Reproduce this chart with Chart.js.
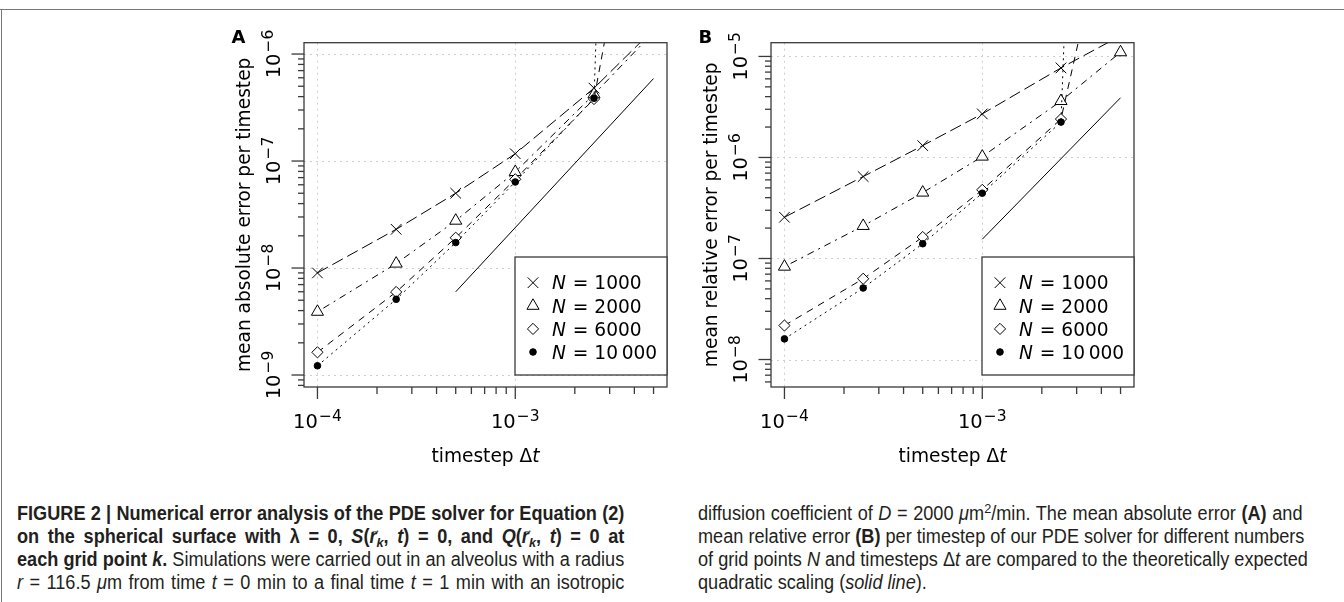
<!DOCTYPE html>
<html>
<head>
<meta charset="utf-8">
<script src="https://cdn.jsdelivr.net/npm/chart.js@4.4.1/dist/chart.umd.min.js"></script>
<style>
  body { margin: 0; background: #fff; width: 1344px; height: 602px; overflow: hidden; position: relative; }
  .frame-top { position: absolute; left: 0; top: 9px; width: 1344px; border-top: 1.5px solid #777; }
  .frame-left { position: absolute; left: 1px; top: 9px; height: 593px; border-left: 1.5px solid #777; }
  canvas { position: absolute; top: 0; }
  .cap { position: absolute; font-family: 'Liberation Sans Narrow', 'Liberation Sans', Arial, sans-serif;
         font-size: 19.5px; line-height: 23px; color: #231f20; white-space: nowrap;
         transform: scaleX(0.93); transform-origin: 0 0; }
  .cap div { text-align: justify; text-align-last: justify; }
  .cap div.last { text-align-last: left; }
  .vec { position: relative; }
  .vec .arr { position: absolute; left: 1px; top: -1px; font-size: 11px; line-height: 11px; font-style: normal; font-weight: normal; }
  sub { font-size: 70%; line-height: 0; vertical-align: -0.3em; }
  sup { font-size: 70%; line-height: 0; }
</style>
</head>
<body>
<div class="frame-top"></div>
<div class="frame-left"></div>
<canvas id="chartA" width="480" height="480" style="left:200px"></canvas>
<canvas id="chartB" width="480" height="480" style="left:667px"></canvas>

<div class="cap" style="left:17px; top:502px; width:653px">
  <div><b>FIGURE 2 | Numerical error analysis of the PDE solver for Equation (2)</b></div>
  <div><b>on the spherical surface with λ = 0, <i>S</i>(<i class="vec"><span class="arr">→</span>r</i><sub><i>k</i></sub>, <i>t</i>) = 0, and <i>Q</i>(<i class="vec"><span class="arr">→</span>r</i><sub><i>k</i></sub>, <i>t</i>) = 0 at</b></div>
  <div><b>each grid point <i>k</i>.</b> Simulations were carried out in an alveolus with a radius</div>
  <div><i>r</i> = 116.5 <i>μ</i>m from time <i>t</i> = 0 min to a final time <i>t</i> = 1 min with an isotropic</div>
</div>
<div class="cap" style="left:698px; top:502px; width:650px">
  <div>diffusion coefficient of <i>D</i> = 2000 <i>μ</i>m<sup>2</sup>/min. The mean absolute error <b>(A)</b> and</div>
  <div>mean relative error <b>(B)</b> per timestep of our PDE solver for different numbers</div>
  <div>of grid points <i>N</i> and timesteps Δ<i>t</i> are compared to the theoretically expected</div>
  <div class="last">quadratic scaling (<i>solid line</i>).</div>
</div>

<script>
// timesteps (x) shared by both panels
const timesteps = [1e-4, 2.5e-4, 5e-4, 1e-3, 2.5e-3, 5e-3];
const gridPoints = ['1000', '2000', '6000', '10\u2009000'];

// panel A: mean absolute error per timestep
const absErr1000  = [9.0e-9, 2.3e-8, 5.0e-8, 1.17e-7, 4.8e-7, 1.7e-6];
const absErr2000  = [3.9e-9, 1.1e-8, 2.77e-8, 7.9e-8, 4.2e-7, 1.6e-6];
const absErr6000  = [1.63e-9, 5.97e-9, 1.92e-8, 6.75e-8, 3.8e-7, 4e-4];
const absErr10000 = [1.22e-9, 5.1e-9, 1.73e-8, 6.37e-8, 3.86e-7, 1e10];
const refStepA   = [5e-4, 5e-3];
const refAbsErr  = [6.0e-9, 5.9e-7];

// panel B: mean relative error per timestep
const relErr1000  = [2.56e-7, 6.47e-7, 1.31e-6, 2.7e-6, 7.7e-6, 1.6e-5];
const relErr2000  = [8.3e-8, 2.1e-7, 4.49e-7, 1.02e-6, 3.62e-6, 1.1e-5];
const relErr6000  = [2.17e-8, 6.3e-8, 1.63e-7, 4.78e-7, 2.4e-6, 1e-3];
const relErr10000 = [1.6e-8, 5.1e-8, 1.4e-7, 4.43e-7, 2.24e-6, 1e10];
const refStepB   = [1e-3, 5e-3];
const refRelErr  = [1.55e-7, 3.9e-6];

// axis ticks
const xMajorTicks = [1e-4, 1e-3];
const xMajorExp   = ['\u22124', '\u22123'];
const xMinorTicks = [2e-4, 3e-4, 4e-4, 5e-4, 6e-4, 7e-4, 8e-4, 9e-4, 2e-3, 3e-3, 4e-3, 5e-3];
const yMajorA = [1e-9, 1e-8, 1e-7, 1e-6];
const yExpA   = ['\u22129', '\u22128', '\u22127', '\u22126'];
const yMajorB = [1e-8, 1e-7, 1e-6, 1e-5];
const yExpB   = ['\u22128', '\u22127', '\u22126', '\u22125'];

const FONT = '"DejaVu Sans", sans-serif';
const INK = '#000';
const BOX = '#3a3a3a';

// R-like point symbols and line types for each N
const SERIES_STYLE = [
  { pointStyle: 'crossRot', radius: 7.5, fill: '#fff', dash: [12, 5] },
  { pointStyle: 'triangle', radius: 7,   fill: '#fff', dash: [2, 5, 7, 5] },
  { pointStyle: 'rectRot',  radius: 5.6, fill: '#fff', dash: [7, 6] },
  { pointStyle: 'circle',   radius: 3.3, fill: '#000', dash: [2, 4] },
];

function makeDatasets(seriesList, refX, refY) {
  const sets = seriesList.map((vals, i) => {
    const st = SERIES_STYLE[i];
    return {
      label: 'N = ' + gridPoints[i],
      data: timesteps.map((t, j) => ({ x: t, y: vals[j] })),
      borderColor: INK,
      borderWidth: 1,
      borderDash: st.dash,
      pointStyle: st.pointStyle,
      pointRadius: st.radius,
      pointBorderColor: INK,
      pointBorderWidth: 1,
      pointBackgroundColor: st.fill,
      tension: 0,
      order: 4 - i,
    };
  });
  sets.push({
    label: 'quadratic',
    data: refX.map((t, j) => ({ x: t, y: refY[j] })),
    borderColor: INK,
    borderWidth: 1,
    pointRadius: 0,
    tension: 0,
  });
  return sets;
}

function drawPow(ctx, x, y, exp, rotate) {
  ctx.save();
  ctx.translate(x, y);
  if (rotate) ctx.rotate(-Math.PI / 2);
  ctx.textAlign = 'left';
  ctx.textBaseline = 'alphabetic';
  ctx.font = '19.5px ' + FONT;
  const w1 = ctx.measureText('10').width;
  ctx.font = '15.5px ' + FONT;
  const w2 = ctx.measureText(exp).width;
  const x0 = -(w1 + w2 + 1) / 2;
  ctx.fillStyle = INK;
  ctx.font = '19.5px ' + FONT;
  ctx.fillText('10', x0, 0);
  ctx.font = '15.5px ' + FONT;
  ctx.fillText(exp, x0 + w1 + 1, -7);
  ctx.restore();
}

function rFramePlugin(cfg) {
  return {
    id: 'rFrame',
    beforeDatasetsDraw(chart) {
      const { ctx, chartArea: a, scales: { x, y } } = chart;
      ctx.save();
      ctx.strokeStyle = '#cfcfcf';
      ctx.lineWidth = 1;
      ctx.setLineDash([2, 4]);
      xMajorTicks.forEach(v => {
        const px = Math.round(x.getPixelForValue(v)) + 0.5;
        ctx.beginPath(); ctx.moveTo(px, a.top); ctx.lineTo(px, a.bottom); ctx.stroke();
      });
      cfg.yMajor.forEach(v => {
        const py = Math.round(y.getPixelForValue(v)) + 0.5;
        ctx.beginPath(); ctx.moveTo(a.left, py); ctx.lineTo(a.right, py); ctx.stroke();
      });
      ctx.restore();
    },
    afterDatasetsDraw(chart) {
      const { ctx, chartArea: a, scales: { x, y } } = chart;
      ctx.save();
      ctx.strokeStyle = BOX;
      ctx.lineWidth = 1.3;
      ctx.setLineDash([]);
      ctx.strokeRect(a.left, a.top, a.right - a.left, a.bottom - a.top);

      // x ticks
      const tick = (px, len) => { ctx.beginPath(); ctx.moveTo(px, a.bottom); ctx.lineTo(px, a.bottom + len); ctx.stroke(); };
      xMajorTicks.forEach(v => tick(x.getPixelForValue(v), 12));
      xMinorTicks.forEach(v => tick(x.getPixelForValue(v), 7));
      // y ticks (minor at 2..9 within each decade)
      const ytick = (py, len) => { ctx.beginPath(); ctx.moveTo(a.left, py); ctx.lineTo(a.left - len, py); ctx.stroke(); };
      const dec0 = Math.floor(Math.log10(y.min)), dec1 = Math.ceil(Math.log10(y.max));
      for (let d = dec0; d <= dec1; d++) {
        for (let m = 2; m <= 9; m++) {
          const v = m * Math.pow(10, d);
          if (v >= y.min && v <= y.max) ytick(y.getPixelForValue(v), 6);
        }
      }
      cfg.yMajor.forEach(v => ytick(y.getPixelForValue(v), 12.5));

      // tick labels
      xMajorTicks.forEach((v, i) => drawPow(ctx, x.getPixelForValue(v), a.bottom + 41, xMajorExp[i], false));
      cfg.yMajor.forEach((v, i) => drawPow(ctx, a.left - 24, y.getPixelForValue(v), cfg.yExp[i], true));

      // axis titles
      ctx.fillStyle = INK;
      ctx.textBaseline = 'alphabetic';
      const upright = '18.6px ' + FONT, oblique = 'italic 18.6px ' + FONT;
      ctx.font = upright;
      const wA = ctx.measureText('timestep \u0394').width;
      ctx.font = oblique;
      const wB = ctx.measureText('t').width;
      const tx = (a.left + a.right) / 2 - (wA + wB) / 2;
      ctx.textAlign = 'left';
      ctx.font = upright; ctx.fillText('timestep \u0394', tx, a.bottom + 75);
      ctx.font = oblique; ctx.fillText('t', tx + wA, a.bottom + 75);

      ctx.save();
      ctx.translate(a.left - 54, (a.top + a.bottom) / 2);
      ctx.rotate(-Math.PI / 2);
      ctx.textAlign = 'center';
      ctx.font = upright;
      ctx.fillText(cfg.yTitle, 0, 0);
      ctx.restore();

      // panel letter
      ctx.font = 'bold 18px ' + FONT;
      ctx.textAlign = 'left';
      ctx.fillText(cfg.letter, a.left - 72.5, a.top);

      // legend, bottom right
      const lw = 152, lh = 118;
      const lx = a.right - lw, ly = a.bottom - 12 - lh;
      ctx.fillStyle = '#fff';
      ctx.fillRect(lx, ly, lw, lh);
      ctx.strokeStyle = BOX;
      ctx.lineWidth = 1.3;
      ctx.strokeRect(lx, ly, lw, lh);
      gridPoints.forEach((n, i) => {
        const cy = ly + 25.7 + i * 23.1;
        const st = SERIES_STYLE[i];
        ctx.fillStyle = st.fill;
        ctx.strokeStyle = INK;
        ctx.lineWidth = 1;
        if (Chart.helpers && Chart.helpers.drawPoint) {
          Chart.helpers.drawPoint(ctx, { pointStyle: st.pointStyle, radius: st.radius, borderWidth: 1, rotation: 0 }, lx + 18, cy);
        }
        ctx.fillStyle = INK;
        ctx.font = oblique;
        ctx.fillText('N', lx + 37, cy + 6.7);
        const wn = ctx.measureText('N').width;
        ctx.font = upright;
        ctx.fillText(' = ' + n, lx + 37 + wn + 1, cy + 6.7);
      });
      ctx.restore();
    }
  };
}

function makeChart(id, datasets, yMin, yMax, cfg) {
  return new Chart(document.getElementById(id), {
    type: 'line',
    data: { datasets },
    options: {
      responsive: false,
      animation: false,
      devicePixelRatio: 1,
      layout: { padding: { left: 104, top: 42.7, right: 13, bottom: 93 } },
      plugins: { legend: { display: false }, tooltip: { enabled: false } },
      scales: {
        x: { type: 'logarithmic', display: false, min: Math.pow(10, -4.068), max: Math.pow(10, -2.233) },
        y: { type: 'logarithmic', display: false, min: yMin, max: yMax },
      },
    },
    plugins: [rFramePlugin(cfg)],
  });
}

makeChart('chartA',
  makeDatasets([absErr1000, absErr2000, absErr6000, absErr10000], refStepA, refAbsErr),
  Math.pow(10, -9.112), Math.pow(10, -5.894),
  { letter: 'A', yTitle: 'mean absolute error per timestep', yMajor: yMajorA, yExp: yExpA });

makeChart('chartB',
  makeDatasets([relErr1000, relErr2000, relErr6000, relErr10000], refStepB, refRelErr),
  Math.pow(10, -8.272), Math.pow(10, -4.864),
  { letter: 'B', yTitle: 'mean relative error per timestep', yMajor: yMajorB, yExp: yExpB });
</script>
</body>
</html>
